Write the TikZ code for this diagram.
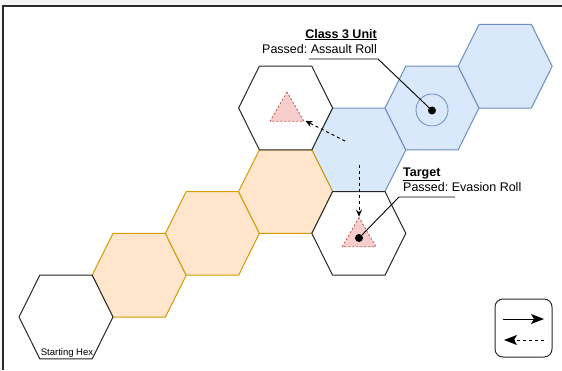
\documentclass[tikz,border=0pt]{standalone}
\usepackage{fontspec}
\setmainfont{Liberation Sans}
\frenchspacing
\usetikzlibrary{arrows.meta,positioning,shapes.geometric,calc}
\definecolor{HexBlue}{HTML}{DAE8FC}
\definecolor{HexBlueLine}{HTML}{6C8EBF}
\definecolor{HexOrange}{HTML}{FFE6CC}
\definecolor{HexOrangeLine}{HTML}{D79B00}
\definecolor{MarkRed}{HTML}{F8CECC}
\definecolor{MarkRedLine}{HTML}{B85450}
\definecolor{Frame}{HTML}{2B2B2B}
\tikzset{pics/hexcell/.style={code={\draw[#1] (-47,0) -- (-26.2,-41.8) -- (26.2,-41.8) -- (47,0) -- (26.2,41.8) -- (-26.2,41.8) -- cycle;}}}

\begin{document}
\begin{tikzpicture}[x=1pt,y=-1pt,
  hexline/.style={line width=1pt,line join=round},
  plainhex/.style={hexline,draw=black!85,fill=white},
  bluehex/.style={hexline,draw=HexBlueLine,fill=HexBlue},
  orangehex/.style={hexline,draw=HexOrangeLine,fill=HexOrange},
  markertri/.style={regular polygon,regular polygon sides=3,minimum size=39pt,inner sep=0pt,draw=MarkRedLine,fill=MarkRed,dash pattern=on 2pt off 2pt,line width=0.8pt},
  unitring/.style={circle,draw=HexBlueLine,line width=0.8pt,minimum size=32pt,inner sep=0pt},
  dot/.style={circle,fill=black,inner sep=0pt,minimum size=8pt},
  leader/.style={draw=black,line width=0.9pt},
  movearr/.style={-{Stealth[length=7pt,width=6pt]},dash pattern=on 3pt off 3pt,line width=1pt},
  keyarr/.style={-{Stealth[length=13pt,width=10pt,inset=3pt]},line width=1pt},
  titletext/.style={font=\fontsize{12.5}{15}\selectfont\bfseries,inner sep=0pt},
  bodytext/.style={font=\fontsize{12.5}{15}\selectfont,inner sep=0pt}
]
\useasboundingbox (0,0) rectangle (562,370);
% screenshot frame
\fill[black!4] (0,0) rectangle (562,6);
\fill[black!4] (0,0) rectangle (3,370);
\draw[line width=1.3pt,Frame] (562,6) -- (3,6) -- (3,370);

% hex strip
\pic at (358.8,149.8) {hexcell=bluehex};
\pic at (432,108) {hexcell=bluehex};
\pic at (505.2,66.2) {hexcell=bluehex};
\foreach \cx/\cy in {139.2/275.2, 212.4/233.4, 285.6/191.6}
  \pic at (\cx,\cy) {hexcell=orangehex};
\pic at (285.6,108) {hexcell=plainhex};
\pic at (358.8,233.4) {hexcell=plainhex};
\pic at (66,317) {hexcell=plainhex};
\node[font=\fontsize{9.5}{11}\selectfont,inner sep=0pt,anchor=base] (startlabel) at (67,355) {Starting Hex};

% markers
\node[markertri] (oldmark) at (287,111.5) {};
\node[markertri] (tgtmark) at (359,237) {};
\node[unitring] (unitring) at (432,110) {};
\node[dot] (unitdot) at (432,110.5) {};
\node[dot] (tgtdot) at (359,238) {};

% movement
\coordinate (evadefrom) at (345,141);
\coordinate (assaultfrom) at (359,165);
\draw[movearr,shorten >=2pt] (evadefrom) -- (oldmark);
\draw[movearr] (assaultfrom) -- (tgtmark.corner 1);

% labels
\node[titletext,anchor=base east] (unittitle) at (377,38) {\underline{Class 3 Unit}};
\node[bodytext,anchor=base east] (unittext) at (377,53.5) {Passed: Assault Roll};
\coordinate (unitbend) at (378,59);
\coordinate (unitend) at (309,59);
\draw[leader] (unitdot.center) -- (unitbend) -- (unitend);

\node[titletext,anchor=base west] (tgttitle) at (403,176) {\underline{Target}};
\node[bodytext,anchor=base west] (tgttext) at (403,191) {Passed: Evasion Roll};
\coordinate (tgtbend) at (399,197);
\coordinate (tgtend) at (455,197);
\draw[leader] (tgtdot.center) -- (tgtbend) -- (tgtend);

% key
\node[draw=Frame,line width=1pt,rounded corners=8pt,minimum width=57pt,minimum height=58pt] (legendbox) at (523.5,328) {};
\coordinate (solidfrom) at (503,319);
\coordinate (solidto) at (544,319);
\coordinate (dashfrom) at (544,340);
\coordinate (dashto) at (504,340);
\draw[keyarr] (solidfrom) -- (solidto);
\draw[keyarr,dash pattern=on 3pt off 3pt] (dashfrom) -- (dashto);
\end{tikzpicture}
\end{document}
